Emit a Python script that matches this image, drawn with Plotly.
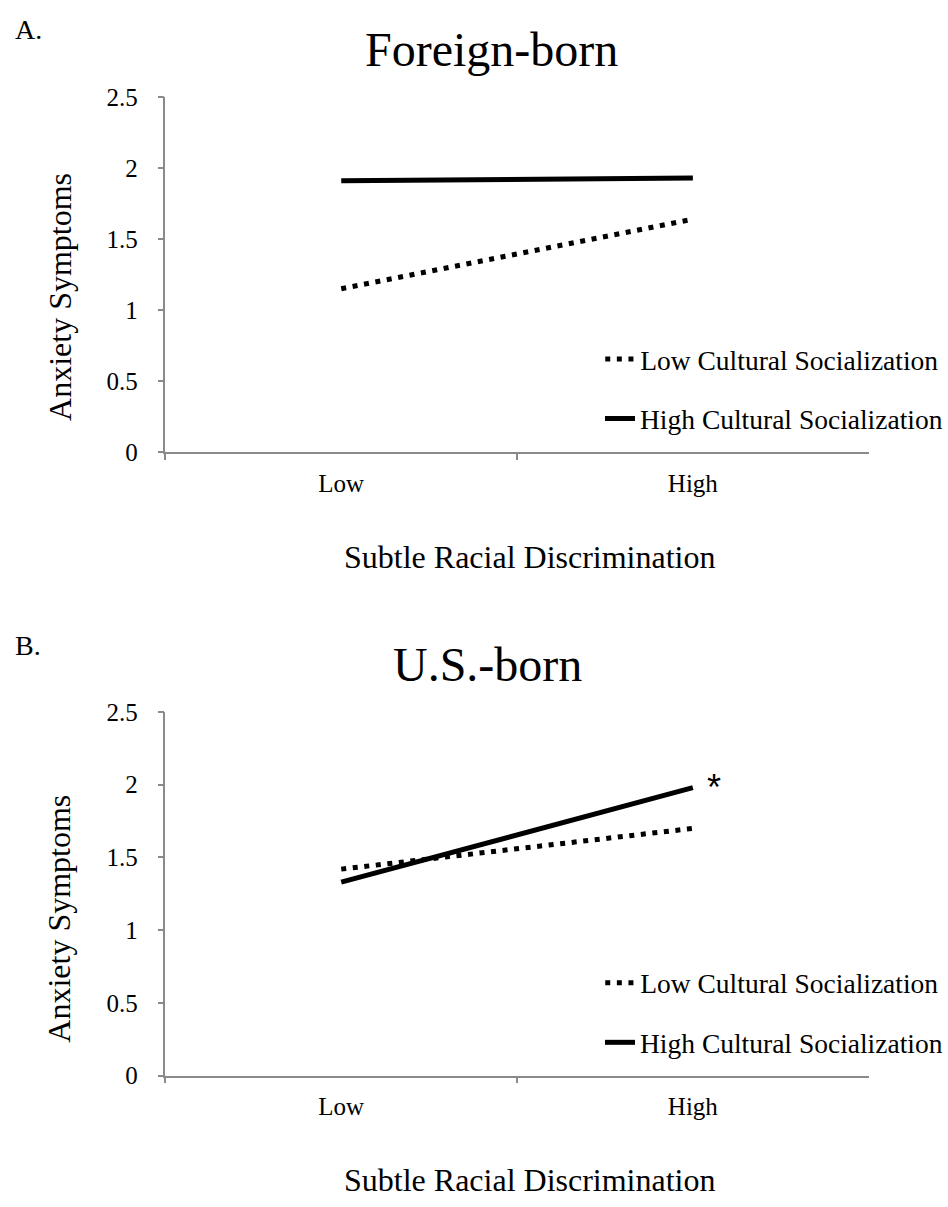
import plotly.graph_objects as go

# Simple-slopes data: anxiety symptoms at low/high subtle racial discrimination
discrimination = ["Low", "High"]

foreign_low_cs = [1.15, 1.64]
foreign_high_cs = [1.91, 1.93]

usborn_low_cs = [1.42, 1.70]
usborn_high_cs = [1.33, 1.98]

y_ticks = [0, 0.5, 1, 1.5, 2, 2.5]
y_ticktext = ["0", "0.5", "1", "1.5", "2", "2.5"]

series_names = ["Low Cultural Socialization", "High Cultural Socialization"]

W, H = 948, 1207
SERIF = "Liberation Serif, Times New Roman, serif"
AXIS_GRAY = "#8a8a8a"


def px_x(p):
    return p / W


def px_y(p):
    return 1 - p / H


fig = go.Figure()

panels = [
    # (xaxis, yaxis, values for low CS, values for high CS, legend ids)
    ("x", "y", foreign_low_cs, foreign_high_cs, ("legend", "legend2")),
    ("x2", "y2", usborn_low_cs, usborn_high_cs, ("legend3", "legend4")),
]

for xa, ya, low_vals, high_vals, legs in panels:
    fig.add_trace(go.Scatter(
        x=discrimination, y=low_vals, mode="lines", name=series_names[0],
        xaxis=xa, yaxis=ya, legend=legs[0],
        line=dict(color="black", width=5, dash="5px,6.6px"),
        hoverinfo="skip",
    ))
    fig.add_trace(go.Scatter(
        x=discrimination, y=high_vals, mode="lines", name=series_names[1],
        xaxis=xa, yaxis=ya, legend=legs[1],
        line=dict(color="black", width=5),
        hoverinfo="skip",
    ))

x_domain = [px_x(167), px_x(877)]
panel_a_top, panel_a_bottom = 86, 449
panel_b_top, panel_b_bottom = 715, 1087

common_x = dict(
    type="category", categoryorder="array", categoryarray=discrimination,
    range=[-0.5, 1.5], tickson="boundaries", ticks="outside", ticklen=6,
    tickcolor=AXIS_GRAY, tickwidth=1.5, showline=True, linecolor=AXIS_GRAY,
    linewidth=1.5, showgrid=False, zeroline=False, ticklabelstandoff=8,
    tickfont=dict(family=SERIF, size=25, color="black"), domain=x_domain,
)
common_y = dict(
    range=[0, 2.5], tickvals=y_ticks, ticktext=y_ticktext, ticks="outside",
    ticklen=6, tickcolor=AXIS_GRAY, tickwidth=1.5, showline=True,
    linecolor=AXIS_GRAY, linewidth=1.5, showgrid=False, zeroline=False,
    ticklabelstandoff=15, tickfont=dict(family=SERIF, size=25, color="black"),
)

fig.update_layout(
    xaxis=dict(common_x, anchor="y"),
    yaxis=dict(common_y, anchor="x",
               domain=[px_y(panel_a_bottom), px_y(panel_a_top)]),
    xaxis2=dict(common_x, anchor="y2"),
    yaxis2=dict(common_y, anchor="x2",
                domain=[px_y(panel_b_bottom), px_y(panel_b_top)]),
)

legend_style = dict(
    xref="paper", yref="paper", xanchor="left", yanchor="middle",
    x=px_x(606), bgcolor="rgba(0,0,0,0)", borderwidth=0,
    font=dict(family=SERIF, size=27.5, color="black"),
)
fig.update_layout(
    legend=dict(legend_style, y=px_y(354)),
    legend2=dict(legend_style, y=px_y(415)),
    legend3=dict(legend_style, y=px_y(354 + 638)),
    legend4=dict(legend_style, y=px_y(415 + 638)),
)

annotations = []


def text(s, x, y, size, xanchor="center", angle=0, family=SERIF):
    annotations.append(dict(
        text=s, x=px_x(x), y=px_y(y), xref="paper", yref="paper",
        xanchor=xanchor, yanchor="middle", showarrow=False, textangle=angle,
        font=dict(family=family, size=size, color="black"),
    ))


# Panel A
text("A.", 13, 17, 28, xanchor="left")
text("Foreign-born", 496, 37, 48)
text("Anxiety Symptoms", 60, 290, 32, angle=-90)
text("Subtle Racial Discrimination", 535, 556, 32)

# Panel B
text("B.", 13, 647, 28, xanchor="left")
text("U.S.-born", 492, 666, 48)
text("Anxiety Symptoms", 60, 926, 32, angle=-90)
text("Subtle Racial Discrimination", 535, 1194, 32)

# Significance marker next to the high cultural socialization slope (U.S.-born)
annotations.append(dict(
    text="*", x="High", y=usborn_high_cs[1], xref="x2", yref="y2",
    xanchor="center", yanchor="middle", showarrow=False, xshift=21, yshift=0,
    font=dict(family="Liberation Sans, Arial, sans-serif", size=36, color="black"),
))

fig.update_layout(
    annotations=annotations,
    width=W, height=H, autosize=False,
    margin=dict(l=0, r=0, t=0, b=0),
    paper_bgcolor="white", plot_bgcolor="white",
    showlegend=True,
)

fig.write_html("out.html")
